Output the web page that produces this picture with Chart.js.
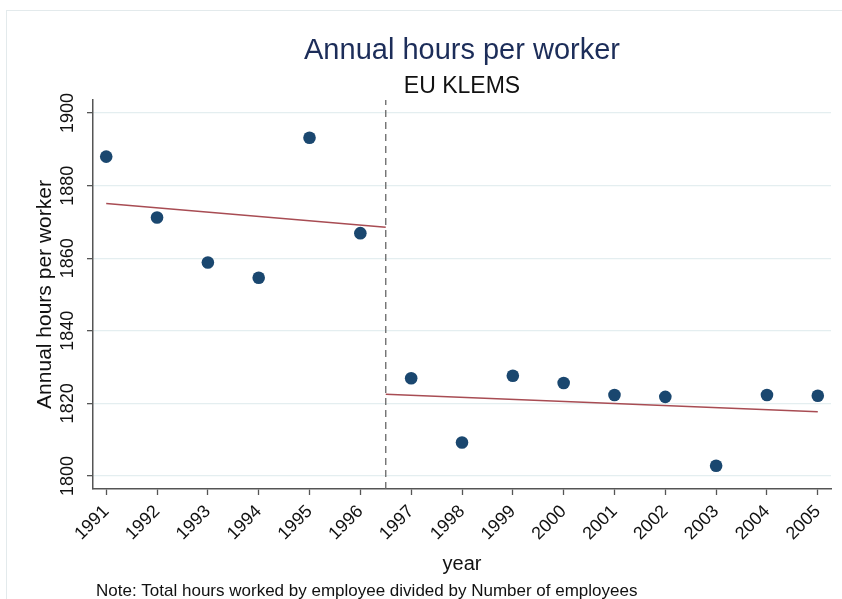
<!DOCTYPE html>
<html>
<head>
<meta charset="utf-8">
<script src="https://cdn.jsdelivr.net/npm/chart.js@4.4.1/dist/chart.umd.min.js"></script>
<style>
  html, body { margin: 0; padding: 0; background: #fff; }
  #wrap { width: 842px; height: 599px; }
</style>
</head>
<body>
<div id="wrap"><canvas id="chart" width="842" height="599"></canvas></div>
<script>
/* ===== annual hours per worker, EU KLEMS ===== */
const years = [1991, 1992, 1993, 1994, 1995, 1996, 1997, 1998, 1999, 2000, 2001, 2002, 2003, 2004, 2005];
const hours = [1888.0, 1871.2, 1858.8, 1854.6, 1893.2, 1866.9, 1826.9, 1809.2, 1827.6, 1825.6, 1822.3, 1821.8, 1802.8, 1822.3, 1822.1];

// fitted lines (start / end)
const fitBeforeX = [1991, 1996.5];
const fitBeforeY = [1875.1, 1868.5];
const fitAfterX  = [1996.5, 2005];
const fitAfterY  = [1822.5, 1817.7];

const yTicks = [1800, 1820, 1840, 1860, 1880, 1900];
const breakYear = 1996.5;
const yMin = 1796.4, yMax = 1903.6;
const xMin = 1990.74, xMax = 2005.26;

const titleText    = "Annual hours per worker";
const subtitleText = "EU KLEMS";
const yTitle       = "Annual hours per worker";
const xTitle       = "year";
const noteText     = "Note: Total hours worked by employee divided by Number of employees";

const FONT = "'Liberation Sans', Arial, Helvetica, sans-serif";
const toPts = (xs, ys) => xs.map((x, i) => ({ x, y: ys[i] }));

const extras = {
  id: "extras",
  beforeDraw(chart) {
    const c = chart.ctx;
    c.save();
    c.fillStyle = "#fff";
    c.fillRect(0, 0, chart.width, chart.height);
    c.strokeStyle = "#e3eaec";
    c.lineWidth = 1;
    c.strokeRect(6.5, 10.5, 900, 700);
    c.restore();
  },
  afterDraw(chart) {
    const c = chart.ctx, a = chart.chartArea, ys = chart.scales.y;
    const mid = (a.left + a.right) / 2;
    c.save();
    c.textAlign = "center";
    c.textBaseline = "alphabetic";
    c.fillStyle = "#1c2d59";
    c.font = `29px ${FONT}`;
    c.fillText(titleText, mid, 59);
    c.fillStyle = "#111";
    c.font = `23px ${FONT}`;
    c.fillText(subtitleText, mid, 93);

    // y tick labels, rotated
    c.font = `18px ${FONT}`;
    c.textBaseline = "middle";
    ys.ticks.forEach(t => {
      const py = ys.getPixelForValue(t.value);
      c.save();
      c.translate(68, py);
      c.rotate(-Math.PI / 2);
      c.fillText(String(t.value), 0, 0);
      c.restore();
    });
    // y title
    c.font = `21px ${FONT}`;
    c.save();
    c.translate(45, (a.top + a.bottom) / 2);
    c.rotate(-Math.PI / 2);
    c.fillText(yTitle, 0, 0);
    c.restore();

    // x title and note
    c.textBaseline = "alphabetic";
    c.font = `20px ${FONT}`;
    c.fillText(xTitle, mid, 570);
    c.textAlign = "left";
    c.font = `17px ${FONT}`;
    c.fillText(noteText, 96, 596);
    c.restore();
  }
};

new Chart(document.getElementById("chart"), {
  type: "scatter",
  data: {
    datasets: [
      {
        data: [{ x: breakYear, y: yMin }, { x: breakYear, y: yMax }],
        type: "line", showLine: true, pointRadius: 0,
        borderColor: "#666", borderWidth: 1.3, borderDash: [7, 5], order: 3
      },
      {
        data: toPts(fitBeforeX, fitBeforeY),
        type: "line", showLine: true, pointRadius: 0,
        borderColor: "#a84c53", borderWidth: 1.5, order: 2
      },
      {
        data: toPts(fitAfterX, fitAfterY),
        type: "line", showLine: true, pointRadius: 0,
        borderColor: "#a84c53", borderWidth: 1.5, order: 2
      },
      {
        data: toPts(years, hours),
        pointRadius: 6.3, pointBackgroundColor: "#1a476f",
        pointBorderColor: "#1a476f", pointBorderWidth: 0, order: 1
      }
    ]
  },
  options: {
    responsive: false,
    animation: false,
    devicePixelRatio: 1,
    layout: { padding: { top: 100, right: 11, bottom: 0, left: 0 } },
    plugins: { legend: { display: false }, title: { display: false }, tooltip: { enabled: false } },
    scales: {
      x: {
        type: "linear", min: xMin, max: xMax,
        afterFit: s => { s.height = 110; },
        afterBuildTicks: s => { s.ticks = years.map(v => ({ value: v })); },
        ticks: {
          autoSkip: false, minRotation: 45, maxRotation: 45, padding: 6,
          color: "#111", font: { family: FONT, size: 18 },
          callback: v => String(v)
        },
        grid: { drawOnChartArea: false, drawTicks: true, tickLength: 6, tickColor: "#555", tickWidth: 1.3 },
        border: { color: "#555", width: 1.5 }
      },
      y: {
        min: yMin, max: yMax,
        afterFit: s => { s.width = 93; },
        afterBuildTicks: s => { s.ticks = yTicks.map(v => ({ value: v })); },
        ticks: { display: false },
        grid: { color: "#e4eef0", lineWidth: 1.3, drawTicks: true, tickLength: 6, tickColor: "#555", tickWidth: 1.3 },
        border: { color: "#555", width: 1.5 }
      }
    }
  },
  plugins: [extras]
});
</script>
</body>
</html>
